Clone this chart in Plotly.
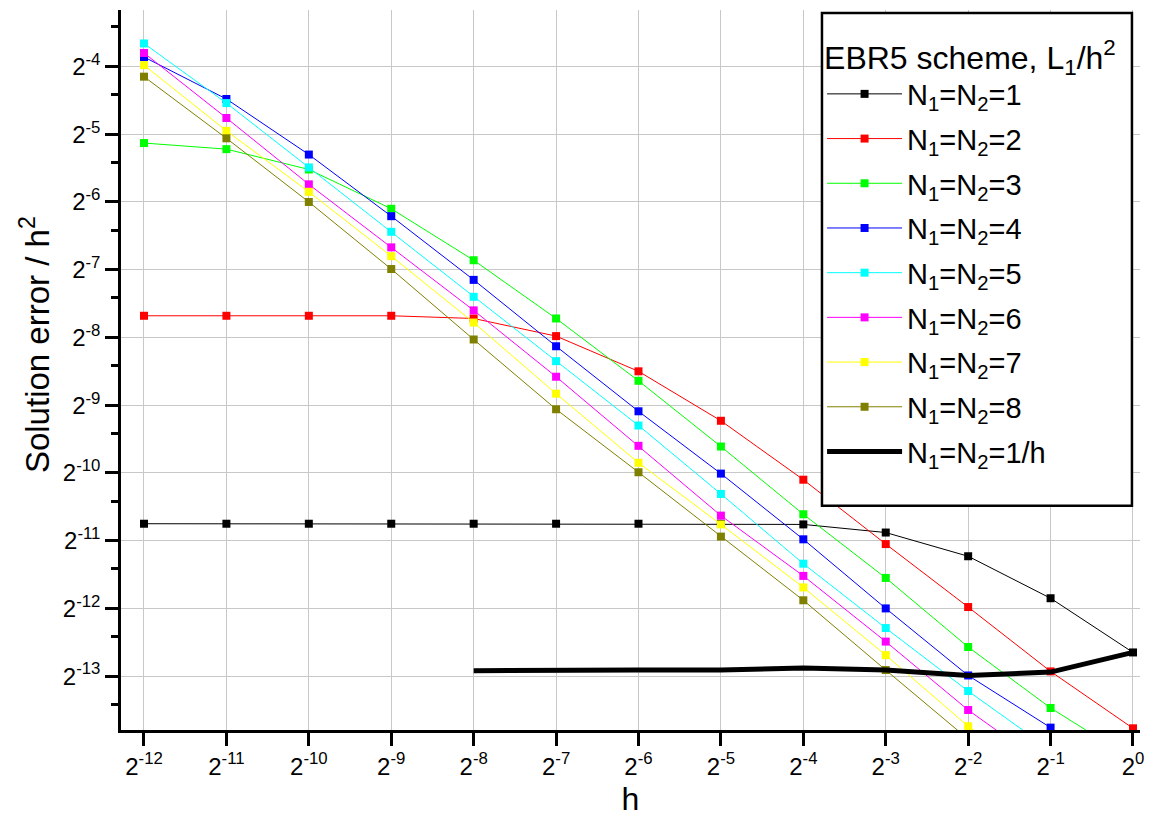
import plotly.graph_objects as go

# Grid spacing h (powers of two from 2^-12 to 2^0)
h = [1/4096, 1/2048, 1/1024, 1/512, 1/256, 1/128, 1/64, 1/32, 1/16, 1/8, 1/4, 1/2, 1]

# log2 of (solution error / h^2) for each mesh, per N1=N2 setting
log2_err_n1 = [-10.75, -10.75, -10.75, -10.75, -10.75, -10.75, -10.75, -10.75, -10.76, -10.88, -11.23, -11.85, -12.65]
log2_err_n2 = [-7.68, -7.68, -7.68, -7.68, -7.72, -7.98, -8.50, -9.23, -10.10, -11.05, -11.98, -12.93, -13.77]
log2_err_n3 = [-5.13, -5.22, -5.52, -6.10, -6.86, -7.72, -8.64, -9.61, -10.61, -11.55, -12.57, -13.47, -14.23]
log2_err_n4 = [-3.86, -4.48, -5.30, -6.21, -7.15, -8.13, -9.09, -10.01, -10.98, -12.00, -12.99, -13.76, -14.70]
log2_err_n5 = [-3.66, -4.54, -5.49, -6.44, -7.40, -8.35, -9.30, -10.31, -11.34, -12.29, -13.22, -14.09, None]
log2_err_n6 = [-3.80, -4.76, -5.74, -6.67, -7.60, -8.58, -9.60, -10.63, -11.52, -12.49, -13.50, -14.37, None]
log2_err_n7 = [-3.98, -4.95, -5.85, -6.80, -7.78, -8.83, -9.85, -10.76, -11.69, -12.69, -13.74, -14.60, None]
log2_err_n8 = [-4.15, -5.06, -6.00, -6.99, -8.03, -9.06, -9.99, -10.94, -11.88, -12.91, -13.93, None, None]
log2_err_inv_h = [None, None, None, None, -12.92, -12.91, -12.91, -12.91, -12.88, -12.91, -12.99, -12.94, -12.65]

series_names = [
    "N<sub>1</sub>=N<sub>2</sub>=1",
    "N<sub>1</sub>=N<sub>2</sub>=2",
    "N<sub>1</sub>=N<sub>2</sub>=3",
    "N<sub>1</sub>=N<sub>2</sub>=4",
    "N<sub>1</sub>=N<sub>2</sub>=5",
    "N<sub>1</sub>=N<sub>2</sub>=6",
    "N<sub>1</sub>=N<sub>2</sub>=7",
    "N<sub>1</sub>=N<sub>2</sub>=8",
]
series_data = [log2_err_n1, log2_err_n2, log2_err_n3, log2_err_n4,
               log2_err_n5, log2_err_n6, log2_err_n7, log2_err_n8]
series_colors = ["#000000", "#ff0000", "#00ff00", "#0000ff",
                 "#00ffff", "#ff00ff", "#ffff00", "#808000"]

x_tick_exp = list(range(-12, 1))
y_tick_exp = list(range(-13, -3))
y_minor_exp = list(range(-14, -3))


def to_value(log2_list):
    return [None if v is None else 2.0 ** v for v in log2_list]


font_family = "Liberation Sans, Arial, sans-serif"

fig = go.Figure()

for i, (name, data, color) in enumerate(zip(series_names, series_data, series_colors)):
    fig.add_trace(go.Scatter(
        x=h, y=to_value(data), name=name, mode="lines+markers",
        legendgroup=f"g{i}",
        line=dict(color=color, width=1),
        marker=dict(symbol="square", size=8, color=color, line=dict(width=0)),
    ))

fig.add_trace(go.Scatter(
    x=h, y=to_value(log2_err_inv_h), name="N<sub>1</sub>=N<sub>2</sub>=1/h",
    mode="lines", legendgroup="g8", line=dict(color="#000000", width=5),
))

# Opaque frame behind the legend entries
fig.add_shape(
    type="rect", xref="paper", yref="paper",
    x0=0.6879, x1=0.9921, y0=0.3116, y1=0.9958,
    fillcolor="white", line=dict(color="black", width=2.5), layer="above",
)

# Vertical axis title
fig.add_annotation(
    text="Solution error / h<sup>2</sup>", textangle=-90,
    xref="paper", yref="paper", x=-0.0844, y=0.536,
    xanchor="center", yanchor="middle", showarrow=False,
    font=dict(size=33, family=font_family, color="black"),
)

fig.update_layout(
    width=1154, height=822, autosize=False,
    margin=dict(l=121, r=14, t=10, b=90),
    paper_bgcolor="white", plot_bgcolor="white",
    font=dict(family=font_family, color="black"),
    showlegend=True,
    legend=dict(
        x=0.688, y=0.9765, xanchor="left", yanchor="top",
        bgcolor="rgba(0,0,0,0)", borderwidth=0,
        font=dict(size=29, family=font_family, color="black"),
        title=dict(text="EBR5 scheme, L<sub>1</sub>/h<sup>2</sup>",
                   font=dict(size=32, family=font_family, color="black")),
        tracegroupgap=4,
        itemwidth=75,
    ),
)

fig.update_xaxes(
    type="log",
    range=[-12.279 * 0.30103, 0.085 * 0.30103],
    tickmode="array",
    tickvals=[2.0 ** k for k in x_tick_exp],
    ticktext=[f"2<sup>{k}</sup>" for k in x_tick_exp],
    tickfont=dict(size=24, family=font_family, color="black"),
    ticks="outside", ticklen=13, tickwidth=2.5, tickcolor="black",
    showline=True, linecolor="black", linewidth=2.5, mirror=False,
    showgrid=True, gridcolor="#c8c8c8", gridwidth=1,
    zeroline=False,
    title=dict(text="h", font=dict(size=32, family=font_family, color="black"), standoff=10),
)

fig.update_yaxes(
    type="log",
    range=[-13.795 * 0.30103, -3.166 * 0.30103],
    tickmode="array",
    tickvals=[2.0 ** k for k in y_tick_exp],
    ticktext=[f"2<sup>{k}</sup>" for k in y_tick_exp],
    tickfont=dict(size=24, family=font_family, color="black"),
    ticks="outside", ticklen=13, tickwidth=2.5, tickcolor="black",
    minor=dict(tickmode="array", tickvals=[1.5 * 2.0 ** k for k in y_minor_exp],
               ticks="outside", ticklen=7, tickwidth=2.5, tickcolor="black",
               showgrid=False),
    showline=True, linecolor="black", linewidth=2.5, mirror=False,
    showgrid=True, gridcolor="#c8c8c8", gridwidth=1,
    zeroline=False,
)

fig.write_html("out.html")
